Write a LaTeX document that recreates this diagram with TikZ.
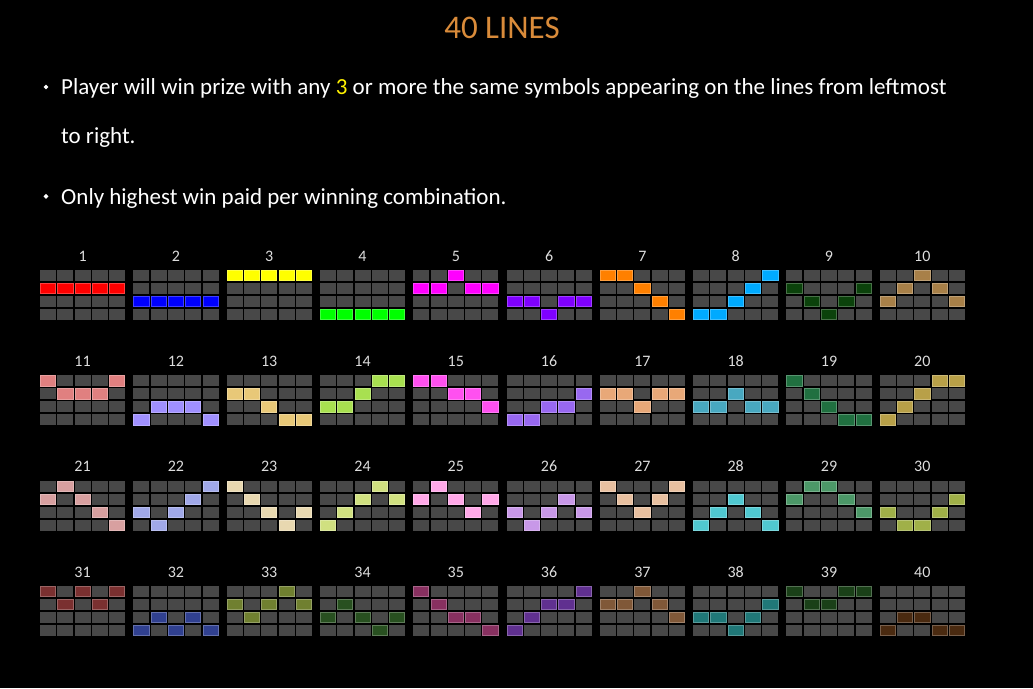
\documentclass[tikz,border=0pt]{standalone}
\usepackage{fontspec}
\setmainfont{Carlito}
\usetikzlibrary{shapes.geometric}

% colours of the page
\definecolor{cellgray}{HTML}{484848}
\definecolor{titleorange}{HTML}{D98B3A}
\definecolor{numgray}{HTML}{DDDDDD}

% one colour per line
\definecolor{lc1}{HTML}{FF0000}
\definecolor{lc2}{HTML}{0000FF}
\definecolor{lc3}{HTML}{FFFF00}
\definecolor{lc4}{HTML}{00FF00}
\definecolor{lc5}{HTML}{FF00FF}
\definecolor{lc6}{HTML}{7F00FF}
\definecolor{lc7}{HTML}{FF8000}
\definecolor{lc8}{HTML}{00AAFF}
\definecolor{lc9}{HTML}{0B420B}
\definecolor{lc10}{HTML}{A88048}
\definecolor{lc11}{HTML}{E08080}
\definecolor{lc12}{HTML}{A090FF}
\definecolor{lc13}{HTML}{E8C878}
\definecolor{lc14}{HTML}{A8E050}
\definecolor{lc15}{HTML}{FF50F0}
\definecolor{lc16}{HTML}{9868F0}
\definecolor{lc17}{HTML}{E8A878}
\definecolor{lc18}{HTML}{48A8C0}
\definecolor{lc19}{HTML}{207040}
\definecolor{lc20}{HTML}{B8A048}
\definecolor{lc21}{HTML}{D8A0A0}
\definecolor{lc22}{HTML}{A0A8E8}
\definecolor{lc23}{HTML}{E8D8B0}
\definecolor{lc24}{HTML}{D0E080}
\definecolor{lc25}{HTML}{FFA8E8}
\definecolor{lc26}{HTML}{C898E8}
\definecolor{lc27}{HTML}{E8C0A0}
\definecolor{lc28}{HTML}{50C8D0}
\definecolor{lc29}{HTML}{4C9868}
\definecolor{lc30}{HTML}{A0B048}
\definecolor{lc31}{HTML}{7A3030}
\definecolor{lc32}{HTML}{304090}
\definecolor{lc33}{HTML}{708030}
\definecolor{lc34}{HTML}{285020}
\definecolor{lc35}{HTML}{883060}
\definecolor{lc36}{HTML}{603090}
\definecolor{lc37}{HTML}{805838}
\definecolor{lc38}{HTML}{207878}
\definecolor{lc39}{HTML}{1A4018}
\definecolor{lc40}{HTML}{4A2A10}

\tikzset{
  cell/.style={fill=cellgray},
  hit/.style={fill=#1, draw=#1!75!white, line width=0.8pt},
  gridlabel/.style={text=numgray, font=\fontsize{16}{16}\selectfont, inner sep=0pt, anchor=base},
  bodytext/.style={text=white, font=\fontsize{23}{23}\selectfont, anchor=base west, inner sep=0pt},
  bullet/.style={diamond, fill=white, inner sep=0pt, minimum size=5pt},
}

\begin{document}
\begin{tikzpicture}[x=1pt,y=-1pt]

\fill[black] (0,0) rectangle (1033,688);
\useasboundingbox (0,0) rectangle (1033,688);

% Title
\node[text=titleorange, font=\fontsize{33}{33}\selectfont] (title) at (502,28) {40 LINES};

% Rules
\node[bullet] (dot1) at (46,87) {};
\node[bodytext] (rule1) at (61,94.3) {Player will win prize with any \textcolor{yellow}{3} or more the same symbols appearing on the lines from leftmost};
\node[bodytext] (rule1b) at (61,143.3) {to right.};
\node[bullet] (dot2) at (46,196.4) {};
\node[bodytext] (rule2) at (61,204) {Only highest win paid per winning combination.};

% Line patterns: number / row hit in each of the 5 reels (0 = top)
\foreach \n/\ra/\rb/\rc/\rd/\re in {
  1/1/1/1/1/1, 2/2/2/2/2/2, 3/0/0/0/0/0, 4/3/3/3/3/3, 5/1/1/0/1/1,
  6/2/2/3/2/2, 7/0/0/1/2/3, 8/3/3/2/1/0, 9/1/2/3/2/1, 10/2/1/0/1/2,
  11/0/1/1/1/0, 12/3/2/2/2/3, 13/1/1/2/3/3, 14/2/2/1/0/0, 15/0/0/1/1/2,
  16/3/3/2/2/1, 17/1/1/2/1/1, 18/2/2/1/2/2, 19/0/1/2/3/3, 20/3/2/1/0/0,
  21/1/0/1/2/3, 22/2/3/2/1/0, 23/0/1/2/3/2, 24/3/2/1/0/1, 25/1/0/1/2/1,
  26/2/3/2/1/2, 27/0/1/2/1/0, 28/3/2/1/2/3, 29/1/0/0/1/2, 30/2/3/3/2/1,
  31/0/1/0/1/0, 32/3/2/3/2/3, 33/1/2/1/0/1, 34/2/1/2/3/2, 35/0/1/2/2/3,
  36/3/2/1/1/0, 37/1/1/0/1/2, 38/2/2/3/2/1, 39/0/1/1/0/0, 40/3/2/2/3/3}{
  \pgfmathsetmacro\gx{40+93.3*mod(\n-1,10)}
  \pgfmathsetmacro\gy{270+105.3*floor((\n-1)/10)}
  \node[gridlabel] (num\n) at (\gx+42.6,\gy-8.8) {\n};
  % grey reel cells
  \foreach \col in {0,...,4}
    \foreach \row in {0,...,3}
      \fill[cell] (\gx+17.3*\col,\gy+13*\row) rectangle ++(16,11);
  % cells on the line
  \foreach \col/\row in {0/\ra,1/\rb,2/\rc,3/\rd,4/\re}
    \filldraw[hit=lc\n] (\gx+17.3*\col+0.4,\gy+13*\row+0.4) rectangle ++(15.2,10.2);
}

\end{tikzpicture}
\end{document}
